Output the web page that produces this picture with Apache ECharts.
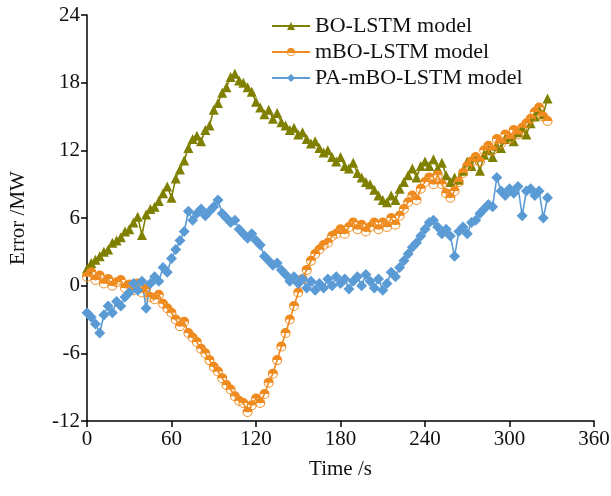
<!DOCTYPE html>
<html>
<head>
<meta charset="utf-8">
<script src="https://cdn.jsdelivr.net/npm/echarts@6/dist/echarts.min.js"></script>
<style>html,body{margin:0;padding:0;background:#fff;}#c{width:611px;height:496px;}</style>
</head>
<body>
<div id="c"></div>
<script>
const times = [0,3,6,9,12,15,18,21,24,27,30,33,36,39,42,45,48,51,54,57,60,63,66,69,72,75,78,81,84,87,90,93,96,99,102,105,108,111,114,117,120,123,126,129,132,135,138,141,144,147,150,153,156,159,162,165,168,171,174,177,180,183,186,189,192,195,198,201,204,207,210,213,216,219,222,225,228,231,234,237,240,243,246,249,252,255,258,261,264,267,270,273,276,279,282,285,288,291,294,297,300,303,306,309,312,315,318,321,324,327];
const boLSTM = [1.5,2.0,2.3,2.6,3.0,3.2,3.8,4.0,4.3,4.8,5.0,5.6,6.1,4.5,6.3,6.8,7.0,7.5,8.2,8.8,7.8,9.5,10.3,11.1,12.2,13.0,13.3,12.8,13.8,14.2,15.6,16.2,17.1,17.6,18.5,18.8,18.2,18.0,17.6,17.2,16.3,15.8,15.2,15.6,14.8,15.3,14.5,14.2,13.8,14.0,13.4,13.6,13.0,12.6,12.8,12.2,11.8,12.0,11.4,11.0,11.4,10.6,10.4,10.9,10.0,9.6,9.2,9.0,8.5,8.0,7.6,7.4,8.0,7.6,8.6,9.2,9.8,10.4,9.6,10.6,11.0,10.6,11.2,10.4,10.9,9.8,9.2,9.6,9.4,10.2,11.0,10.6,11.4,10.2,11.6,12.0,11.4,12.4,12.2,13.0,13.2,12.8,13.6,14.0,13.4,14.4,15.0,15.6,15.2,16.6];
const mboLSTM = [0.8,1.2,0.5,0.9,0.2,0.6,0.0,0.3,0.5,-0.2,0.1,-0.4,0.2,-0.6,-0.3,-1.0,-1.2,-0.8,-1.6,-2.0,-2.4,-3.0,-3.6,-3.2,-4.2,-4.6,-5.0,-5.6,-6.0,-6.6,-7.2,-7.6,-8.2,-8.8,-9.2,-9.8,-10.2,-10.4,-11.2,-10.6,-10.0,-10.4,-9.6,-8.6,-7.8,-6.6,-5.4,-4.2,-3.0,-1.8,-0.6,0.6,1.4,2.2,2.8,3.2,3.6,3.8,4.4,4.6,5.0,4.6,5.2,5.6,5.0,5.4,4.8,5.2,5.6,5.0,5.6,5.2,6.0,5.4,6.2,6.8,7.4,8.0,7.6,8.6,9.2,9.6,9.0,9.8,9.0,8.2,7.8,8.4,9.2,10.0,10.6,11.0,11.4,11.0,12.0,12.4,12.0,13.0,12.6,13.4,13.0,13.8,13.4,14.0,14.4,14.8,15.4,15.8,15.0,14.6];
const pamboLSTM = [-2.4,-2.8,-3.4,-4.2,-2.6,-1.8,-2.4,-1.4,-1.8,-1.0,-0.6,0.2,-0.4,0.4,-2.0,0.2,0.8,0.4,1.6,1.2,2.4,3.2,4.0,4.8,6.6,5.8,6.4,6.8,6.2,6.6,7.0,7.6,6.4,6.0,5.6,5.8,5.0,4.6,4.2,4.6,4.0,3.6,2.6,2.2,1.8,2.0,1.4,1.0,0.4,0.8,0.2,0.6,-0.2,0.4,-0.4,0.2,-0.2,0.6,0.0,0.8,0.2,0.6,-0.3,0.4,0.8,0.0,1.0,0.4,-0.2,0.6,-0.4,0.2,1.2,0.8,1.6,2.2,2.8,3.4,3.8,4.4,5.0,5.6,5.8,5.2,4.6,5.0,4.4,2.6,4.8,5.2,4.6,5.6,5.8,6.4,6.8,7.2,7.0,9.6,8.4,8.0,8.6,8.2,8.8,6.2,8.4,8.6,8.0,8.4,6.0,7.8];
const seriesNames = ['BO-LSTM model','mBO-LSTM model','PA-mBO-LSTM model'];
const xTicks = {min:0, max:360, interval:60};
const yTicks = {min:-12, max:24, interval:6};

const pair = arr => times.map((t,i)=>[t,arr[i]]);
const FONT = '"Liberation Serif","Times New Roman",serif';
const halfCircle = 'path://M0,5A5,5 0 0 1 10,5Z M0,5A5,5 0 0 0 10,5L9,5A4,4 0 0 1 1,5Z';

const chart = echarts.init(document.getElementById('c'));
chart.setOption({
  animation:false,
  backgroundColor:'#fff',
  grid:{left:87,right:17,top:15,bottom:75, containLabel:false, outerBoundsMode:'none'},
  legend:{
    orient:'vertical', left:266, top:10, itemGap:4,
    itemWidth:38, itemHeight:10,
    textStyle:{fontFamily:FONT, fontSize:22, color:'#111'},
    data:seriesNames
  },
  xAxis:{
    type:'value', min:xTicks.min, max:xTicks.max, interval:xTicks.interval,
    name:'Time /s', nameLocation:'middle', nameGap:38,
    nameTextStyle:{fontFamily:FONT, fontSize:21, color:'#111'},
    axisLine:{show:true, onZero:false, lineStyle:{color:'#000', width:1.5}},
    axisTick:{show:true, inside:false, length:6, lineStyle:{color:'#000', width:1.5}},
    axisLabel:{fontFamily:FONT, fontSize:21, color:'#111', margin:8},
    splitLine:{show:false}
  },
  yAxis:{
    type:'value', min:yTicks.min, max:yTicks.max, interval:yTicks.interval,
    name:'Error /MW', nameLocation:'middle', nameGap:58,
    nameTextStyle:{fontFamily:FONT, fontSize:21, color:'#111'},
    axisLine:{show:true, onZero:false, lineStyle:{color:'#000', width:1.5}},
    axisTick:{show:true, inside:false, length:6, lineStyle:{color:'#000', width:1.5}},
    axisLabel:{fontFamily:FONT, fontSize:21, color:'#111', margin:7},
    splitLine:{show:false}
  },
  series:[
    {name:seriesNames[0], type:'line', data:pair(boLSTM), symbol:'triangle', symbolSize:10,
     showAllSymbol:true, lineStyle:{color:'#7f8000', width:1.6}, itemStyle:{color:'#7f8000'}},
    {name:seriesNames[1], type:'line', data:pair(mboLSTM), symbol:halfCircle, symbolSize:10,
     showAllSymbol:true, lineStyle:{color:'#ef8a1e', width:1.6}, itemStyle:{color:'#ef8a1e'}},
    {name:seriesNames[2], type:'line', data:pair(pamboLSTM), symbol:'diamond', symbolSize:11,
     showAllSymbol:true, lineStyle:{color:'#5b9bd5', width:1.6}, itemStyle:{color:'#5b9bd5'}}
  ]
});
</script>
</body>
</html>
